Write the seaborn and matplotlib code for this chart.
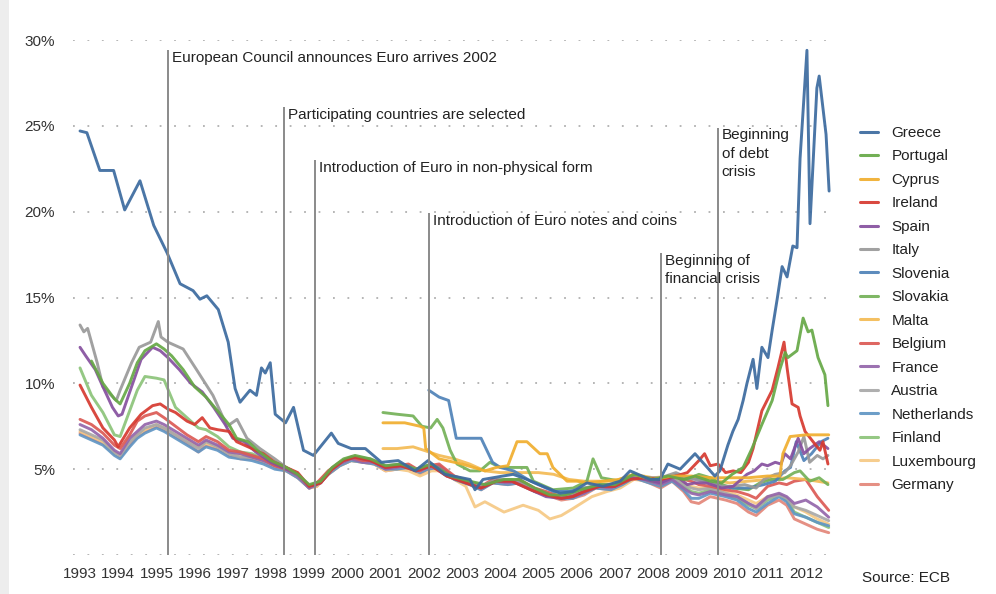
import matplotlib
matplotlib.use("Agg")
import matplotlib.pyplot as plt
from matplotlib.patches import Rectangle
import pandas as pd
import seaborn as sns

# ---------------- data ----------------
countries = ["Greece", "Portugal", "Cyprus", "Ireland", "Spain", "Italy", "Slovenia",
             "Slovakia", "Malta", "Belgium", "France", "Austria", "Netherlands",
             "Finland", "Luxembourg", "Germany"]
colors = ["#3b6a9f", "#66a846", "#f0ae2e", "#d6392f", "#86509f", "#999999", "#4f82b8",
          "#74b158", "#f4bb55", "#dc5a55", "#9466ab", "#a8a8a8", "#6196c4",
          "#8cc47a", "#f6c985", "#e3877a"]

greece_t = [1993.0, 1993.18, 1993.52, 1993.88, 1994.17, 1994.57, 1994.93, 1995.28, 1995.62, 1995.96,
            1996.14, 1996.32, 1996.62, 1996.88, 1997.06, 1997.19, 1997.45, 1997.62, 1997.75, 1997.85,
            1997.98, 1998.11, 1998.38, 1998.59, 1998.85, 1999.11, 1999.58, 1999.76, 2000.1, 2000.47,
            2000.89, 2001.33, 2001.77, 2002.11, 2002.55, 2003.21, 2003.34, 2003.55, 2004.07, 2004.34,
            2004.7, 2005.12, 2005.57, 2005.91, 2006.27, 2006.69, 2007.14, 2007.4, 2007.92, 2008.18,
            2008.39, 2008.71, 2009.1, 2009.62, 2009.75, 2009.96, 2010.09, 2010.23, 2010.36, 2010.46,
            2010.62, 2010.72, 2010.85, 2011.01, 2011.12, 2011.25, 2011.38, 2011.51, 2011.66, 2011.77,
            2011.85, 2012.03, 2012.11, 2012.29, 2012.35, 2012.53, 2012.61]
greece_v = [24.7, 24.6, 22.4, 22.4, 20.1, 21.8, 19.2, 17.6, 15.8, 15.4,
            14.9, 15.1, 14.3, 12.4, 9.7, 8.9, 9.6, 9.3, 10.9, 10.6,
            11.2, 8.2, 7.7, 8.6, 6.1, 5.8, 7.1, 6.5, 6.2, 6.2,
            5.4, 5.5, 4.9, 5.5, 4.7, 4.4, 3.8, 4.4, 4.6, 4.7,
            4.4, 4.0, 3.6, 3.7, 4.2, 4.0, 4.3, 4.9, 4.4, 4.4,
            5.3, 5.0, 5.9, 4.6, 4.9, 6.4, 7.2, 7.9, 9.0, 10.0,
            11.4, 9.7, 12.1, 11.5, 13.1, 14.9, 16.8, 16.2, 18.0, 17.9,
            23.1, 29.4, 19.3, 27.2, 27.9, 24.5, 21.2]

portugal_t = [1993.3, 1993.6, 1993.9, 1994.05, 1994.3, 1994.5, 1994.7, 1995.0, 1995.2, 1995.4,
              1995.7, 1996.0, 1996.3, 1996.6, 1996.9, 1997.1, 1997.4, 1997.7, 1998.0, 1998.4,
              1998.7, 1999.0, 1999.3, 1999.6, 1999.9, 2000.2, 2000.6, 2001.0, 2001.4, 2001.8,
              2002.2, 2002.7, 2003.2, 2003.6, 2004.1, 2004.5, 2004.9, 2005.3, 2005.7, 2006.1,
              2006.6, 2007.0, 2007.5, 2008.0, 2008.4, 2008.8, 2009.1, 2009.5, 2009.8, 2010.07,
              2010.36, 2010.59, 2010.85, 2011.12, 2011.32, 2011.46, 2011.53, 2011.77, 2011.93, 2012.06,
              2012.16, 2012.32, 2012.5, 2012.58]
portugal_v = [11.3, 10.0, 9.1, 8.8, 10.0, 11.2, 11.9, 12.3, 12.0, 11.6,
              10.8, 9.8, 9.2, 8.4, 7.6, 6.8, 6.6, 6.0, 5.5, 5.1,
              4.7, 4.1, 4.3, 5.1, 5.6, 5.8, 5.6, 5.2, 5.3, 5.0,
              5.3, 4.6, 4.3, 4.1, 4.4, 4.4, 3.9, 3.5, 3.5, 3.8,
              4.1, 4.1, 4.7, 4.4, 4.6, 4.4, 4.6, 4.3, 4.2, 4.7,
              5.1, 6.2, 7.6, 9.0, 10.8, 11.8, 11.5, 11.9, 13.8, 13.0,
              13.1, 11.5, 10.5, 8.7]

cyprus_t = [2000.93, 2001.5, 2001.9, 2002.0, 2002.05, 2002.4, 2003.0, 2003.6, 2003.9, 2004.2,
            2004.44, 2004.7, 2005.04, 2005.23, 2005.38, 2005.75, 2006.0, 2006.3, 2006.7, 2007.1,
            2007.5, 2008.0, 2008.5, 2009.0, 2009.5, 2010.0, 2010.5, 2011.0, 2011.32, 2011.4,
            2011.59, 2012.0, 2012.6]
cyprus_v = [7.7, 7.7, 7.5, 7.4, 6.2, 5.6, 5.3, 4.9, 5.1, 5.2,
            6.6, 6.6, 5.9, 5.9, 5.1, 4.3, 4.3, 4.2, 4.3, 4.4,
            4.7, 4.4, 4.6, 4.6, 4.5, 4.5, 4.5, 4.6, 4.6, 5.9,
            6.9, 7.0, 7.0]

ireland_t = [1993.0, 1993.3, 1993.6, 1993.9, 1994.0, 1994.3, 1994.6, 1994.9, 1995.1, 1995.3,
             1995.5, 1995.8, 1996.0, 1996.2, 1996.4, 1996.6, 1996.9, 1997.1, 1997.5, 1997.8,
             1998.1, 1998.4, 1998.7, 1999.0, 1999.3, 1999.6, 1999.9, 2000.2, 2000.6, 2001.0,
             2001.4, 2001.8, 2002.2, 2002.6, 2003.1, 2003.5, 2003.9, 2004.3, 2004.8, 2005.2,
             2005.6, 2005.9, 2006.2, 2006.6, 2007.0, 2007.4, 2007.8, 2008.2, 2008.6, 2008.9,
             2009.2, 2009.35, 2009.5, 2009.7, 2009.9, 2010.1, 2010.3, 2010.5, 2010.62, 2010.85,
             2011.12, 2011.27, 2011.43, 2011.51, 2011.64, 2011.8, 2011.85, 2011.98, 2012.19, 2012.37,
             2012.45, 2012.58]
ireland_v = [9.9, 8.6, 7.4, 6.7, 6.3, 7.4, 8.2, 8.7, 8.8, 8.5,
             8.3, 7.8, 7.6, 8.0, 7.4, 7.3, 7.2, 6.6, 6.2, 5.9,
             5.4, 5.1, 4.8, 4.0, 4.2, 5.0, 5.5, 5.7, 5.5, 5.1,
             5.2, 4.9, 5.2, 4.6, 4.2, 3.9, 4.3, 4.3, 3.8, 3.5,
             3.3, 3.4, 3.7, 4.0, 4.0, 4.4, 4.5, 4.4, 4.6, 4.8,
             5.5, 5.9, 5.2, 5.3, 4.8, 4.9, 4.8, 5.4, 6.2, 8.4,
             9.6, 10.9, 12.4, 10.9, 8.8, 8.6, 8.1, 7.2, 6.6, 6.1,
             6.6, 5.3]

spain_t = [1993.0, 1993.15, 1993.4, 1993.6, 1993.85, 1994.0, 1994.1, 1994.35, 1994.6, 1994.9,
           1995.1, 1995.3, 1995.6, 1995.9, 1996.2, 1996.5, 1996.8, 1997.0, 1997.3, 1997.6,
           1998.0, 1998.4, 1998.7, 1999.0, 1999.3, 1999.6, 1999.9, 2000.2, 2000.6, 2001.0,
           2001.4, 2001.8, 2002.2, 2002.6, 2003.1, 2003.5, 2003.9, 2004.3, 2004.8, 2005.2,
           2005.6, 2005.9, 2006.2, 2006.6, 2007.0, 2007.4, 2007.8, 2008.2, 2008.6, 2008.9,
           2009.1, 2009.4, 2009.8, 2010.1, 2010.46, 2010.65, 2010.85, 2011.0, 2011.2, 2011.35,
           2011.45, 2011.6, 2011.8, 2011.95, 2012.1, 2012.35, 2012.58]
spain_v = [12.1, 11.6, 10.8, 9.8, 8.6, 8.1, 8.2, 9.8, 11.4, 12.1,
           11.9, 11.5, 10.8, 10.0, 9.5, 8.6, 7.6, 6.8, 6.6, 6.0,
           5.4, 5.0, 4.7, 4.0, 4.2, 5.0, 5.5, 5.7, 5.5, 5.1,
           5.2, 4.9, 5.2, 4.6, 4.2, 3.9, 4.3, 4.3, 3.8, 3.4,
           3.3, 3.4, 3.7, 4.0, 4.0, 4.5, 4.4, 4.2, 4.6, 4.1,
           4.2, 4.2, 3.9, 4.0, 4.7, 4.9, 5.3, 5.2, 5.4, 5.3,
           5.9, 5.6, 6.8, 5.9, 6.2, 6.6, 6.2]

italy_t = [1993.0, 1993.1, 1993.2, 1993.45, 1993.6, 1993.95, 1994.05, 1994.35, 1994.55, 1994.85,
           1995.05, 1995.12, 1995.3, 1995.6, 1995.7, 1996.05, 1996.48, 1996.85, 1997.11, 1997.37,
           1997.71, 1998.1, 1998.4, 1998.7, 1999.0, 1999.3, 1999.6, 1999.9, 2000.2, 2000.6,
           2001.0, 2001.4, 2001.8, 2002.2, 2002.6, 2003.1, 2003.5, 2003.9, 2004.3, 2004.8,
           2005.2, 2005.6, 2005.9, 2006.2, 2006.6, 2007.0, 2007.4, 2007.8, 2008.2, 2008.6,
           2008.9, 2009.1, 2009.5, 2009.8, 2010.1, 2010.4, 2010.7, 2010.9, 2011.2, 2011.45,
           2011.6, 2011.8, 2011.95, 2012.1, 2012.3, 2012.45, 2012.58]
italy_v = [13.4, 13.0, 13.2, 11.2, 9.8, 9.0, 9.6, 11.2, 12.1, 12.4,
           13.6, 12.7, 12.4, 12.1, 12.0, 10.8, 9.3, 7.5, 7.9, 6.8,
           6.2, 5.6, 5.1, 4.7, 4.0, 4.2, 5.0, 5.5, 5.7, 5.6,
           5.2, 5.3, 5.0, 5.3, 4.7, 4.3, 4.0, 4.4, 4.4, 3.9,
           3.5, 3.4, 3.6, 3.9, 4.1, 4.1, 4.6, 4.5, 4.5, 4.8,
           4.5, 4.4, 4.2, 4.0, 4.0, 4.1, 3.9, 4.4, 4.7, 4.8,
           5.2, 6.0, 6.9, 5.4, 5.8, 5.6, 5.8]

slovenia_t = [2002.13, 2002.4, 2002.65, 2002.85, 2003.5, 2003.8, 2004.0, 2004.35, 2004.8, 2005.4,
              2005.8, 2006.2, 2006.6, 2007.0, 2007.4, 2007.8, 2008.2, 2008.6, 2008.9, 2009.2,
              2009.5, 2009.8, 2010.1, 2010.5, 2010.9, 2011.2, 2011.45, 2011.6, 2011.75, 2011.95,
              2012.15, 2012.4, 2012.58]
slovenia_v = [9.6, 9.2, 9.0, 6.8, 6.8, 5.4, 5.1, 4.9, 4.3, 3.7,
              3.7, 3.9, 4.0, 4.1, 4.6, 4.5, 4.4, 4.7, 4.5, 4.4,
              4.2, 4.0, 3.9, 3.9, 4.1, 4.3, 4.9, 5.1, 6.6, 5.5,
              5.9, 6.6, 6.8]

slovakia_t = [2000.93, 2001.3, 2001.72, 2001.95, 2002.18, 2002.35, 2002.5, 2002.69, 2002.87, 2003.21,
              2003.47, 2003.73, 2004.0, 2004.5, 2004.7, 2004.87, 2005.38, 2005.91, 2006.27, 2006.43,
              2006.65, 2007.14, 2007.5, 2008.0, 2008.5, 2008.9, 2009.2, 2009.5, 2009.8, 2010.1,
              2010.5, 2010.8, 2011.1, 2011.4, 2011.7, 2011.85, 2012.1, 2012.35, 2012.58]
slovakia_v = [8.3, 8.2, 8.1, 7.5, 7.4, 7.9, 7.4, 6.1, 5.3, 4.9,
              4.9, 5.4, 5.1, 5.1, 5.1, 4.3, 3.8, 3.9, 4.3, 5.6,
              4.5, 4.3, 4.6, 4.3, 4.6, 4.4, 4.7, 4.5, 4.1, 3.9,
              3.8, 4.2, 4.4, 4.4, 4.8, 4.9, 4.3, 4.5, 4.1]

malta_t = [2000.93, 2001.3, 2001.72, 2002.0, 2002.4, 2002.8, 2003.2, 2003.6, 2004.0, 2004.5,
           2005.0, 2005.4, 2005.8, 2006.2, 2006.6, 2007.0, 2007.5, 2008.0, 2008.5, 2009.0,
           2009.5, 2010.0, 2010.5, 2011.0, 2011.5, 2012.0, 2012.58]
malta_v = [6.2, 6.2, 6.3, 6.1, 5.8, 5.6, 5.3, 4.9, 4.8, 4.8,
           4.8, 4.7, 4.4, 4.3, 4.3, 4.3, 4.7, 4.5, 4.6, 4.5,
           4.4, 4.2, 4.3, 4.4, 4.5, 4.4, 4.2]

core_t = [1993.0, 1993.3, 1993.6, 1993.9, 1994.05, 1994.3, 1994.5, 1994.7, 1995.0, 1995.2,
          1995.5, 1995.8, 1996.1, 1996.3, 1996.6, 1996.9, 1997.2, 1997.5, 1997.8, 1998.1,
          1998.4, 1998.7, 1999.0, 1999.2, 1999.5, 1999.8, 2000.1, 2000.4, 2000.7, 2001.0,
          2001.3, 2001.6, 2001.9, 2002.1, 2002.4, 2002.8, 2003.2, 2003.5, 2003.8, 2004.2,
          2004.5, 2004.9, 2005.2, 2005.6, 2005.9, 2006.2, 2006.5, 2006.9, 2007.2, 2007.5,
          2007.9, 2008.2, 2008.5, 2008.8, 2009.0, 2009.2, 2009.5, 2009.9, 2010.2, 2010.5,
          2010.7, 2011.0, 2011.3, 2011.5, 2011.7, 2012.0, 2012.3, 2012.6]
belgium_v = [7.9, 7.6, 7.1, 6.4, 6.2, 7.0, 7.8, 8.1, 8.3, 8.0,
             7.5, 7.0, 6.6, 6.9, 6.6, 6.1, 6.0, 5.8, 5.6, 5.2,
             5.0, 4.7, 4.0, 4.2, 4.9, 5.4, 5.7, 5.5, 5.5, 5.1,
             5.2, 5.3, 4.9, 5.2, 5.3, 4.6, 4.3, 4.0, 4.4, 4.3,
             4.4, 3.9, 3.7, 3.4, 3.5, 3.7, 4.1, 4.0, 4.3, 4.7,
             4.4, 4.3, 4.6, 4.4, 4.3, 4.1, 4.0, 3.8, 3.7, 3.5,
             3.3, 4.0, 4.2, 4.1, 4.3, 4.4, 3.4, 2.6]
france_v = [7.6, 7.3, 6.8, 6.1, 5.9, 6.8, 7.2, 7.6, 7.8, 7.6,
            7.2, 6.8, 6.4, 6.7, 6.4, 6.0, 5.9, 5.7, 5.5, 5.2,
            5.0, 4.6, 3.9, 4.1, 4.8, 5.3, 5.6, 5.4, 5.4, 5.0,
            5.1, 5.2, 4.9, 5.1, 5.2, 4.5, 4.2, 3.9, 4.3, 4.2,
            4.3, 3.8, 3.6, 3.3, 3.4, 3.6, 4.0, 3.9, 4.2, 4.6,
            4.3, 4.1, 4.4, 3.9, 3.6, 3.5, 3.7, 3.5, 3.4, 3.0,
            2.8, 3.4, 3.6, 3.4, 3.0, 3.2, 2.8, 2.2]
austria_v = [7.3, 7.0, 6.7, 6.0, 5.8, 6.6, 7.0, 7.4, 7.6, 7.4,
             7.0, 6.6, 6.2, 6.6, 6.3, 5.9, 5.7, 5.7, 5.5, 5.2,
             5.0, 4.6, 3.9, 4.1, 4.8, 5.3, 5.6, 5.5, 5.4, 5.1,
             5.1, 5.2, 4.9, 5.1, 5.2, 4.5, 4.2, 3.9, 4.3, 4.2,
             4.3, 3.8, 3.6, 3.3, 3.5, 3.7, 4.0, 3.9, 4.2, 4.6,
             4.3, 4.1, 4.5, 4.1, 3.9, 3.8, 3.9, 3.6, 3.4, 3.0,
             2.7, 3.3, 3.5, 3.3, 2.8, 2.6, 2.3, 2.0]
netherlands_v = [7.0, 6.7, 6.4, 5.8, 5.6, 6.3, 6.8, 7.1, 7.4, 7.2,
                 6.8, 6.4, 6.0, 6.3, 6.1, 5.7, 5.6, 5.5, 5.3, 5.0,
                 4.9, 4.5, 3.9, 4.1, 4.7, 5.2, 5.5, 5.4, 5.3, 5.0,
                 5.0, 5.1, 4.8, 5.0, 5.1, 4.4, 4.1, 3.8, 4.2, 4.1,
                 4.2, 3.7, 3.5, 3.3, 3.3, 3.6, 3.9, 3.8, 4.1, 4.5,
                 4.2, 4.0, 4.3, 3.8, 3.3, 3.3, 3.6, 3.4, 3.2, 2.7,
                 2.5, 3.0, 3.4, 3.1, 2.4, 2.2, 1.9, 1.7]
finland_v = [10.9, 9.3, 8.3, 7.0, 6.9, 8.4, 9.6, 10.4, 10.3, 10.2,
             8.6, 8.0, 7.4, 7.3, 6.9, 6.3, 6.0, 5.9, 5.6, 5.3,
             5.0, 4.6, 4.0, 4.1, 4.9, 5.4, 5.7, 5.5, 5.4, 5.1,
             5.1, 5.2, 4.9, 5.1, 5.2, 4.5, 4.2, 3.9, 4.3, 4.2,
             4.3, 3.8, 3.5, 3.3, 3.4, 3.7, 4.0, 3.9, 4.2, 4.6,
             4.3, 4.2, 4.5, 4.0, 3.7, 3.6, 3.8, 3.5, 3.3, 2.9,
             2.7, 3.2, 3.5, 3.2, 2.5, 2.2, 1.9, 1.6]
germany_v = [7.1, 6.8, 6.5, 5.9, 5.7, 6.4, 6.9, 7.2, 7.5, 7.3,
             6.9, 6.5, 6.0, 6.4, 6.2, 5.8, 5.6, 5.6, 5.4, 5.1,
             4.9, 4.5, 3.9, 4.0, 4.7, 5.2, 5.5, 5.4, 5.3, 4.9,
             5.0, 5.1, 4.7, 5.0, 5.1, 4.4, 4.1, 3.8, 4.2, 4.1,
             4.2, 3.7, 3.5, 3.2, 3.3, 3.5, 3.9, 3.8, 4.1, 4.5,
             4.2, 3.9, 4.3, 3.7, 3.1, 3.0, 3.4, 3.2, 3.0, 2.5,
             2.3, 2.9, 3.2, 2.9, 2.1, 1.8, 1.5, 1.3]

lux_t = [1993.0, 1993.3, 1993.6, 1993.9, 1994.05, 1994.3, 1994.5, 1994.7, 1995.0, 1995.2,
         1995.5, 1995.8, 1996.1, 1996.3, 1996.6, 1996.9, 1997.2, 1997.5, 1997.8, 1998.1,
         1998.4, 1998.7, 1999.0, 1999.2, 1999.5, 1999.8, 2000.1, 2000.4, 2000.7, 2001.0,
         2001.3, 2001.6, 2001.9, 2002.2, 2002.42, 2002.8, 2003.1, 2003.34, 2003.6, 2004.1,
         2004.6, 2005.0, 2005.3, 2005.6, 2005.9, 2006.4, 2006.8, 2007.14, 2007.5, 2007.9,
         2008.2, 2008.5, 2008.8, 2009.0, 2009.2, 2009.5, 2009.9, 2010.2, 2010.5, 2010.7,
         2011.0, 2011.3, 2011.5, 2011.7, 2012.0, 2012.3, 2012.6]
lux_v = [7.2, 6.9, 6.6, 5.9, 5.8, 6.6, 7.0, 7.3, 7.6, 7.4,
         7.0, 6.7, 6.3, 6.5, 6.3, 5.9, 5.8, 5.7, 5.5, 5.2,
         4.9, 4.6, 3.9, 4.0, 4.7, 5.2, 5.5, 5.4, 5.3, 4.9,
         5.0, 4.9, 4.6, 4.9, 4.9, 4.4, 4.0, 2.8, 3.1, 2.5,
         2.9, 2.6, 2.1, 2.3, 2.7, 3.4, 3.7, 3.9, 4.4, 4.3,
         4.2, 4.5, 4.2, 4.0, 3.9, 3.9, 3.7, 3.5, 3.2, 3.0,
         3.4, 3.5, 3.3, 2.8, 2.5, 2.1, 1.8]

series_t = [greece_t, portugal_t, cyprus_t, ireland_t, spain_t, italy_t, slovenia_t,
            slovakia_t, malta_t, core_t, core_t, core_t, core_t, core_t, lux_t, core_t]
series_v = [greece_v, portugal_v, cyprus_v, ireland_v, spain_v, italy_v, slovenia_v,
            slovakia_v, malta_v, belgium_v, france_v, austria_v, netherlands_v,
            finland_v, lux_v, germany_v]

event_years = [1995.30, 1998.34, 1999.15, 2002.14, 2008.21, 2009.70]
event_tops = [29.4, 26.1, 23.0, 19.9, 17.6, 24.9]
event_labels = ["European Council announces Euro arrives 2002",
                "Participating countries are selected",
                "Introduction of Euro in non-physical form",
                "Introduction of Euro notes and coins",
                "Beginning of\nfinancial crisis",
                "Beginning\nof debt\ncrisis"]

year_ticks = list(range(1993, 2013))
y_ticks = [0, 5, 10, 15, 20, 25, 30]
y_labels = ["", "5%", "10%", "15%", "20%", "25%", "30%"]

# ---------------- build table ----------------
frames = []
for name, t, v in zip(countries, series_t, series_v):
    frames.append(pd.DataFrame({"year": t, "value": v, "country": name}))
df = pd.concat(frames, ignore_index=True)

# ---------------- style ----------------
sns.set_style("white")
plt.rcParams["font.family"] = ["Liberation Sans", "DejaVu Sans"]

W, H = 996, 594
fig = plt.figure(figsize=(W / 100, H / 100), dpi=100)
ax_l, ax_r, ax_t, ax_b = 73, 831, 40, 555
ax = fig.add_axes([ax_l / W, 1 - ax_b / H, (ax_r - ax_l) / W, (ax_b - ax_t) / H])

px_per_year = 38.2
x0 = 1993 + (ax_l - 80) / px_per_year
x1 = 1993 + (ax_r - 80) / px_per_year

palette = dict(zip(countries, colors))
sns.lineplot(data=df, x="year", y="value", hue="country", hue_order=countries[::-1],
             palette=palette, estimator=None, sort=False, linewidth=2.1, alpha=0.92,
             ax=ax, legend=True)

handles, labels = ax.get_legend_handles_labels()
ax.get_legend().remove()
hmap = dict(zip(labels, handles))

# Greece drawn a little heavier, as in the original
for line in ax.get_lines():
    if line.get_label() == "Greece":
        line.set_linewidth(2.5)

ax.set_xlim(x0, x1)
ax.set_ylim(0, 30)
ax.set_xlabel("")
ax.set_ylabel("")
for s in ax.spines.values():
    s.set_visible(False)

ax.set_yticks(y_ticks)
ax.set_yticklabels(y_labels)
ax.set_xticks(year_ticks)
ax.set_xticklabels([str(y) for y in year_ticks])
ax.tick_params(axis="both", length=0, labelsize=11, labelcolor="#333333")
ax.tick_params(axis="y", pad=13)
ax.tick_params(axis="x", pad=9)
ax.yaxis.grid(True, linestyle=(0, (1, 7)), color="#b0b0b0", linewidth=1.3)
ax.xaxis.grid(False)

# event markers
ax.vlines(event_years, 0, event_tops, color="#8a8a8a", linewidth=1.4, zorder=6)
for xe, te, lab in zip(event_years, event_tops, event_labels):
    ax.text(xe + 0.1, te - 0.05, lab, ha="left", va="top", fontsize=11,
            color="#222222", linespacing=1.4, zorder=7)

# legend
leg = fig.legend([hmap[c] for c in countries], countries, loc="upper left",
                 bbox_to_anchor=(860 / W, 1 - 126 / H), frameon=False, fontsize=11,
                 handlelength=1.2, handletextpad=0.85, labelspacing=0.62,
                 borderpad=0, borderaxespad=0)
for line in leg.get_lines():
    line.set_linewidth(2.2)
for txt in leg.get_texts():
    txt.set_color("#222222")

fig.text(862 / W, 1 - 578 / H, "Source: ECB", ha="left", va="center",
         fontsize=11, color="#222222")

fig.patches.append(Rectangle((0, 0), 9 / W, 1, transform=fig.transFigure,
                             facecolor="#ededed", edgecolor="none"))

fig.savefig("out.png", dpi=100)
